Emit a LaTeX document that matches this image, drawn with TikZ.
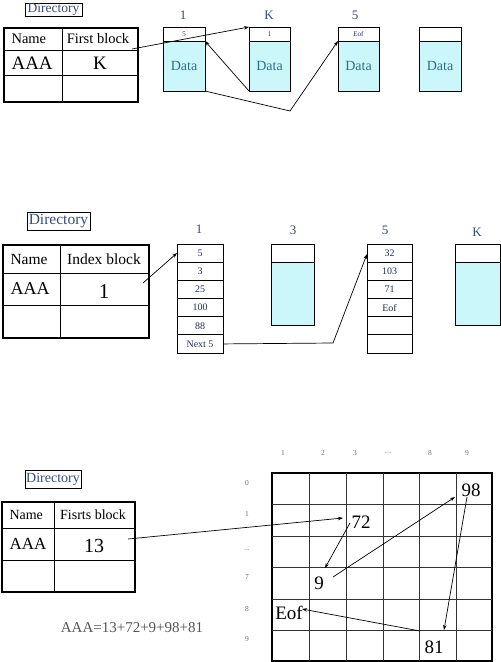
\documentclass[tikz,border=0pt]{standalone}
\usepackage{fontspec}
\setmainfont{Liberation Serif}
\usetikzlibrary{arrows.meta}
\definecolor{dirblue}{RGB}{55,75,120}
\definecolor{datafill}{RGB}{204,247,250}
\definecolor{datatext}{RGB}{45,110,140}
\definecolor{numnavy}{RGB}{35,45,80}
\definecolor{eqgrey}{RGB}{85,85,85}
\definecolor{axgrey}{RGB}{110,110,110}
\newcommand{\fsz}[1]{\fontsize{#1}{#1}\selectfont}
\newcommand{\threedots}{...}
\newcommand{\fourdots}{....}
\begin{document}
\begin{tikzpicture}[x=1pt,y=-1pt,
  dirbox/.style={draw, line width=0.6pt, text=dirblue, inner sep=0pt, outer sep=0pt},
  tabframe/.style={draw, line width=1.6pt, inner sep=0pt, outer sep=0pt, anchor=north west},
  tabline/.style={line width=0.7pt},
  hdr/.style={draw, line width=0.9pt, inner sep=0pt, outer sep=0pt, anchor=north west, text=numnavy},
  dat/.style={draw, line width=0.9pt, fill=datafill, inner sep=0pt, outer sep=0pt, anchor=north west, text=datatext, font=\fsz{14}},
  cellx/.style={draw, line width=0.9pt, inner sep=0pt, outer sep=0pt, anchor=north west, minimum width=46pt, minimum height=18.17pt, text=numnavy, font=\fsz{10}},
  blab/.style={text=dirblue, font=\fsz{13}},
  arr/.style={line width=0.7pt, -{Stealth[length=5pt,width=3.5pt]}},
  big/.style={font=\fsz{19}},
  axl/.style={text=axgrey, font=\fsz{7.5}}
]
\useasboundingbox (0,0) rectangle (501,662);

% ================= TOP =================
\node[dirbox, minimum width=57pt, minimum height=13pt, font=\fsz{13.5}] (dir1) at (53.5,9.5) {Directory};
\node[tabframe, minimum width=134pt, minimum height=74pt] (tab1) at (4,28) {};
\draw[tabline] (62,28) -- (62,102) (4,50) -- (138,50) (4,75) -- (138,75);
\node[anchor=west, font=\fsz{14.5}] (t1name) at (8,39) {Name};
\node[font=\fsz{14.5}] (t1fb) at (98,39) {First block};
\node[anchor=west, font=\fsz{19}] (t1aaa) at (8,63) {AAA};
\node[font=\fsz{19}] (t1k) at (100,63) {K};

\node[blab] (l1) at (183,15) {1};
\node[blab] (lK) at (269,15) {K};
\node[blab] (l5) at (355,15) {5};

\node[hdr, minimum width=42pt, minimum height=14pt, font=\fsz{7}] (h1) at (163,27) {5};
\node[dat, minimum width=42pt, minimum height=50pt] (d1) at (163,41) {Data};
\node[hdr, minimum width=41pt, minimum height=14pt, font=\fsz{7}] (hK) at (249,27) {1};
\node[dat, minimum width=41pt, minimum height=50pt] (dK) at (249,41) {Data};
\node[hdr, minimum width=41pt, minimum height=14pt, font=\fsz{7}] (h5) at (338,27) {Eof};
\node[dat, minimum width=41pt, minimum height=50pt] (d5) at (338,41) {Data};
\node[hdr, minimum width=42pt, minimum height=14pt] (h4) at (419,27) {};
\node[dat, minimum width=42pt, minimum height=50pt] (d4) at (419,41) {Data};

\coordinate (s1) at (132,49);
\coordinate (bend1) at (290,111);
\draw[arr] (s1) -- (hK.north west);
\draw[arr] (dK.south west) -- (d1.north east);
\draw[arr] (d1.south east) -- (bend1) -- (d5.north west);

% ================= MIDDLE =================
\node[dirbox, minimum width=63pt, minimum height=18pt, font=\fsz{15.5}] (dir2) at (58.5,221) {Directory};
\node[tabframe, minimum width=146pt, minimum height=93pt] (tab2) at (3,245) {};
\draw[tabline] (60,245) -- (60,338) (3,273) -- (149,273) (3,305) -- (149,305);
\node[anchor=west, font=\fsz{15.5}] (t2name) at (7,259) {Name};
\node[font=\fsz{15.5}] (t2ib) at (104,259) {Index block};
\node[anchor=west, font=\fsz{18}] (t2aaa) at (7,289) {AAA};
\node[font=\fsz{21}] (t2one) at (104,292) {1};

\node[blab] (m1) at (199,229) {1};
\node[blab] (m3) at (293,230) {3};
\node[blab] (m5) at (385,230) {5};
\node[blab] (mK) at (477,232) {K};

\foreach \t [count=\i from 0] in {5,3,25,100,88,Next 5}
  \node[cellx] (ib\i) at (177,244+18.17*\i) {\t};
\foreach \t [count=\i from 0] in {32,103,71,Eof,\phantom{0},\phantom{0}}
  \node[cellx, minimum width=45pt] (fb\i) at (367,244+18.17*\i) {\t};

\node[hdr, minimum width=43pt, minimum height=18pt] (h3m) at (271,244) {};
\node[dat, minimum width=43pt, minimum height=63pt] (d3m) at (271,262) {};
\node[hdr, minimum width=45pt, minimum height=18pt] (hKm) at (455,244) {};
\node[dat, minimum width=45pt, minimum height=63pt] (dKm) at (455,262) {};

\coordinate (s2) at (143,283);
\coordinate (bend2) at (333,343);
\draw[arr] (s2) -- (ib0.west);
\draw[arr] (ib5.east) -- (bend2) -- ([yshift=-1pt]fb0.west);

% ================= BOTTOM =================
\node[dirbox, minimum width=56pt, minimum height=18pt, font=\fsz{14}] (dir3) at (53,479) {Directory};
\node[tabframe, minimum width=133pt, minimum height=90pt] (tab3) at (2,502) {};
\draw[tabline] (54,502) -- (54,592) (2,528) -- (135,528) (2,560) -- (135,560);
\node[anchor=west, font=\fsz{14}] (t3name) at (6,515) {Name};
\node[font=\fsz{14}] (t3fb) at (93,515) {Fisrts block};
\node[anchor=west, font=\fsz{17}] (t3aaa) at (6,544) {AAA};
\node[font=\fsz{20}] (t3num) at (94,546) {13};

\node[text=eqgrey, font=\fsz{15}] (eq) at (132,628) {AAA=13+72+9+98+81};

\node[axl] (rl0) at (247,483) {0};
\node[axl] (rl1) at (247,514) {1};
\node[axl] (rl2) at (247,550) {\threedots};
\node[axl] (rl7) at (247,577) {7};
\node[axl] (rl8) at (247,609) {8};
\node[axl] (rl9) at (247,639) {9};
\node[axl] (cl1) at (283,453) {1};
\node[axl] (cl2) at (323,453) {2};
\node[axl] (cl3) at (355,453) {3};
\node[axl] (cl4) at (388,453) {\fourdots};
\node[axl] (cl8) at (430,453) {8};
\node[axl] (cl9) at (467,453) {9};

\node[draw, line width=1.6pt, inner sep=0pt, outer sep=0pt, anchor=north west, minimum width=220pt, minimum height=188pt] (grid) at (272,473) {};
\foreach \x in {309,346,383,419,456}
  \draw[line width=0.7pt, black!80] (\x,473) -- (\x,661);
\foreach \y in {504,536,567,599,630}
  \draw[line width=0.7pt, black!80] (272,\y) -- (492,\y);

\node[big] (g98) at (471,490) {98};
\node[big] (g72) at (361,522) {72};
\node[big] (g9) at (319,583) {9};
\node[big] (gEof) at (289,613) {Eof};
\node[big] (g81) at (434,647) {81};

\coordinate (s3) at (128,539);
\coordinate (p72in) at (343,518);
\coordinate (p72out) at (350,523);
\coordinate (p9in) at (325,568);
\coordinate (p9out) at (333,577);
\coordinate (p98in) at (455,497);
\coordinate (p98out) at (467,497);
\coordinate (p81in) at (444,630);
\coordinate (p81out) at (420,631);
\coordinate (pEofin) at (302,609);
\draw[arr] (s3) -- (p72in);
\draw[arr] (p72out) -- (p9in);
\draw[arr] (p9out) -- (p98in);
\draw[arr] (p98out) -- (p81in);
\draw[arr] (p81out) -- (pEofin);
\end{tikzpicture}
\end{document}
